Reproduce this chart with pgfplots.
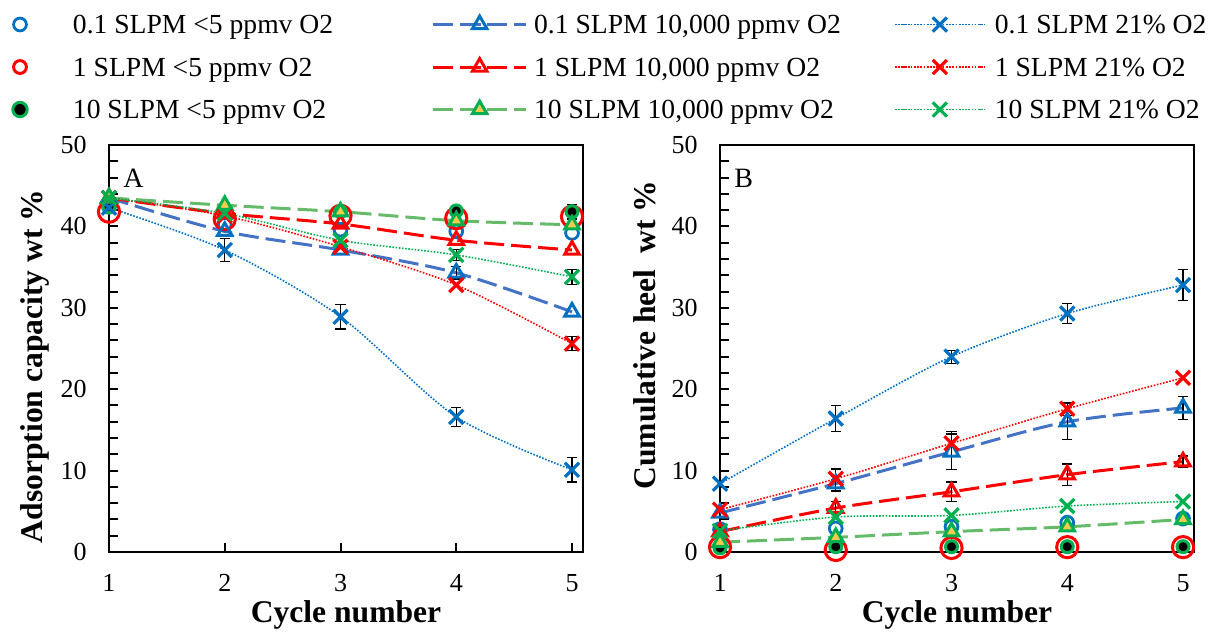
\documentclass[border=0pt]{standalone}
\usepackage{fontspec}
\setmainfont{Liberation Serif}
\usepackage{pgfplots}
\pgfplotsset{compat=1.18}
\definecolor{mblue}{HTML}{0070C0}
\definecolor{lblue}{HTML}{4472C4}
\definecolor{mred}{HTML}{FF0000}
\definecolor{mgreen}{HTML}{00B050}
\definecolor{lgreen}{HTML}{66BB6A}
\definecolor{myellow}{HTML}{F2CC4C}
\newcommand{\labfont}{\bfseries\fontsize{15.8pt}{18pt}\selectfont}
\pgfplotsset{
 panel/.style={
  width=237pt, height=203.5pt, scale only axis,
  xmin=1, xmax=5.095, ymin=0, ymax=50,
  xtick={1,2,3,4,5}, ytick={0,10,...,50}, minor y tick num=4,
  tick align=inside, tick pos=left,
  major tick length=4.5pt, minor tick length=4.5pt,
  tick style={black, line width=1pt},
  axis line style={line width=1.3pt},
  every tick label/.append style={inner sep=0pt, font=\fontsize{13pt}{15pt}\selectfont},
  xticklabel shift=11pt, yticklabel shift=11pt,
  /pgf/number format/assume math mode=true,
  every axis x label/.style={at={(axis description cs:0.5,-0.1548)}, anchor=center, font=\labfont},
  clip=false, set layers,
 },
 col1/.style={legend image code/.code={\path[draw=none,fill=none] (0pt,-5pt) rectangle (36.5pt,5pt); \draw[##1] plot coordinates {(10pt,0pt)};}},
 col1s/.style={legend image code/.code={\path[draw=none,fill=none] (0pt,-5pt) rectangle (36.5pt,5pt); \draw[##1,mark size=3.2pt] plot coordinates {(10pt,0pt)};}},
 col1b/.style={legend image code/.code={\path[draw=none,fill=none] (0pt,-5pt) rectangle (36.5pt,5pt); \draw[##1,mark size=3.6pt] plot coordinates {(10pt,0pt)};}},
 col2/.style={legend image code/.code={\path[draw=none,fill=none] (0pt,-5pt) rectangle (100.5pt,5pt); \draw[mark repeat=2,mark phase=2,##1] plot coordinates {(50pt,0pt)(73.25pt,0pt)(96.5pt,0pt)};}},
 col3/.style={legend image code/.code={\path[draw=none,fill=none] (0pt,-5pt) rectangle (77pt,5pt); \draw[mark repeat=2,mark phase=2,##1] plot coordinates {(27pt,0pt)(49.5pt,0pt)(72pt,0pt)};}},
 s1/.style={col1, mblue, line width=1.4pt, only marks, mark=o, mark size=3.2pt, on layer=axis foreground},
 s2/.style={col1s, mred, line width=1.5pt, only marks, mark=o, mark size=5.3pt, on layer=axis foreground},
 s3/.style={col1b, only marks, mark=*, mark size=3pt, mark options={fill=black, draw=mgreen, line width=1.5pt}, on layer=axis foreground},
 dashl/.style={line width=1.5pt, dash pattern=on 10pt off 3.5pt, smooth},
 dotl/.style={line width=0.8pt, dash pattern=on 0.8pt off 0.8pt, smooth},
 s4/.style={col2, lblue, dashl, mark=triangle, mark size=4.2pt, mark options={solid, mblue, line width=1.5pt}},
 s5/.style={col2, mred, dashl, mark=triangle, mark size=4.2pt, mark options={solid, mred, line width=1.5pt}},
 s6/.style={col2, lgreen, dashl, mark=triangle*, mark size=4.2pt, mark options={solid, draw=mgreen, fill=myellow, line width=1.5pt}},
 s7/.style={col3, mblue, dotl, mark=x, mark size=5pt, mark options={solid, line width=1.6pt}},
 s8/.style={col3, mred, dotl, mark=x, mark size=5pt, mark options={solid, line width=1.6pt}},
 s9/.style={col3, mgreen, dotl, mark=x, mark size=5pt, mark options={solid, line width=1.6pt}},
 errb/.style={forget plot, draw=none, mark=none, error bars/.cd, y dir=both, y explicit,
   error bar style={draw=black, line width=0.6pt, solid},
   error mark options={draw=black, rotate=90, mark size=2.6pt, line width=0.6pt, solid}},
}
\begin{document}
\begin{tikzpicture}
\begin{axis}[panel, at={(0pt,0pt)}, anchor=south west,
  ylabel={Adsorption capacity wt \%},
  xlabel={Cycle number},
  every axis y label/.style={at={(axis description cs:-0.1561,0.4558)}, rotate=90, anchor=center, font=\labfont},
  legend columns=3, transpose legend, legend cell align=left,
  legend style={at={(axis description cs:-0.22996,1.3329)}, anchor=north west, draw=none, fill=none,
    inner sep=0pt, outer sep=0pt, column sep=0pt, row sep=6.25pt,
    nodes={inner sep=0pt, text height=12pt, text depth=3pt, font=\fontsize{13.8pt}{16pt}\selectfont}},
]
\addplot[s1] coordinates {(1,42.4)(2,40.2)(3,39.6)(4,39.4)(5,39.2)};
\addlegendentry{0.1 SLPM <5 ppmv O2}
\addplot[s2] coordinates {(1,41.8)(2,40.9)(3,41.3)(4,41.0)(5,41.2)};
\addlegendentry{1 SLPM <5 ppmv O2}
\addplot[s3] coordinates {(1,42.4)(2,41.9)(3,41.8)(4,41.9)(5,41.8)};
\addlegendentry{10 SLPM <5 ppmv O2}
\addplot[s4] coordinates {(1,43.5)(2,39.4)(3,37.1)(4,34.3)(5,29.5)};
\addlegendentry{0.1 SLPM 10,000 ppmv O2}
\addplot[s5] coordinates {(1,43.5)(2,41.6)(3,40.3)(4,38.3)(5,37.1)};
\addlegendentry{1 SLPM 10,000 ppmv O2}
\addplot[s6] coordinates {(1,43.5)(2,42.6)(3,41.8)(4,40.7)(5,40.2)};
\addlegendentry{10 SLPM 10,000 ppmv O2}
\addplot[s7] coordinates {(1,42.3)(2,37.1)(3,28.9)(4,16.6)(5,10.1)};
\addlegendentry{0.1 SLPM 21\% O2}
\addplot[s8] coordinates {(1,43.5)(2,41.3)(3,37.5)(4,32.8)(5,25.6)};
\addlegendentry{1 SLPM 21\% O2}
\addplot[s9] coordinates {(1,43.5)(2,41.6)(3,38.3)(4,36.5)(5,33.8)};
\addlegendentry{10 SLPM 21\% O2}
\addplot[errb] coordinates {(2,37.1) +- (0,1.4) (3,28.9) +- (0,1.5) (4,16.6) +- (0,1.2) (5,10.1) +- (0,1.5)};
\addplot[errb] coordinates {(2,41.9) +- (0,1.0) (5,41.8) +- (0,0.9) (4,34.3) +- (0,0.75) (4,36.5) +- (0,0.7) (5,33.8) +- (0,0.9) (5,25.6) +- (0,0.85)};
\node[anchor=base west, inner sep=0pt, font=\fontsize{14pt}{16pt}\selectfont] at (axis description cs:0.0295,0.8968) {A};
\end{axis}
\begin{axis}[panel, at={(305.5pt,0pt)}, anchor=south west,
  ylabel={Cumulative heel\ \ wt \%},
  xlabel={Cycle number},
  every axis y label/.style={at={(axis description cs:-0.158,0.533)}, rotate=90, anchor=center, font=\labfont},
]
\addplot[s1] coordinates {(1,2.8)(2,2.9)(3,3.1)(4,3.6)(5,4.1)};
\addplot[s2] coordinates {(1,0.6)(2,0.25)(3,0.5)(4,0.6)(5,0.6)};
\addplot[s3] coordinates {(1,0.5)(2,0.65)(3,0.65)(4,0.65)(5,0.65)};
\addplot[s4] coordinates {(1,4.8)(2,8.4)(3,12.3)(4,16.0)(5,17.7)};
\addplot[s5] coordinates {(1,2.5)(2,5.4)(3,7.4)(4,9.5)(5,11.1)};
\addplot[s6] coordinates {(1,1.2)(2,1.8)(3,2.5)(4,3.1)(5,4.0)};
\addplot[s7] coordinates {(1,8.4)(2,16.4)(3,24.0)(4,29.3)(5,32.8)};
\addplot[s8] coordinates {(1,5.2)(2,9.0)(3,13.35)(4,17.6)(5,21.4)};
\addplot[s9] coordinates {(1,2.6)(2,4.3)(3,4.5)(4,5.65)(5,6.2)};
\addplot[errb] coordinates {(2,16.4) +- (0,1.6) (3,24.0) +- (0,0.8) (4,29.3) +- (0,1.2) (5,32.8) +- (0,1.9)};
\addplot[errb] coordinates {(2,9.0) +- (0,1.2) (3,13.35) +- (0,1.5) (4,17.6) +- (0,0.8)};
\addplot[errb] coordinates {(2,8.4) +- (0,0.9) (3,12.3) +- (0,2.2) (4,16.0) +- (0,2.2) (5,17.7) +- (0,1.4)};
\addplot[errb] coordinates {(2,5.4) +- (0,0.8) (3,7.4) +- (0,1.2) (4,9.5) +- (0,1.3) (5,11.1) +- (0,0.7)};
\node[anchor=base west, inner sep=0pt, font=\fontsize{14pt}{16pt}\selectfont] at (axis description cs:0.0295,0.8968) {B};
\end{axis}
\pgfresetboundingbox
\path (-54.5pt,-41pt) rectangle (555pt,276pt);
\end{tikzpicture}
\end{document}
